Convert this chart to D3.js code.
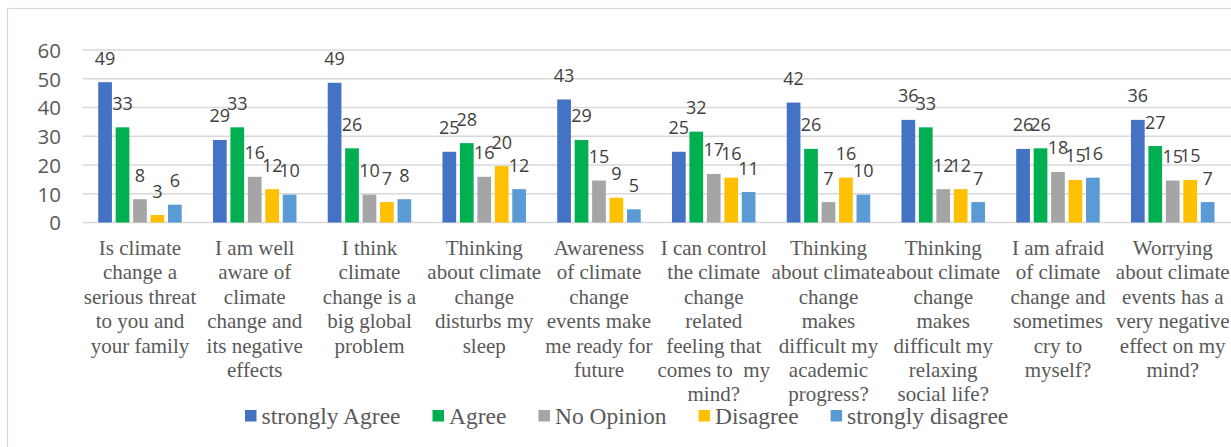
<!DOCTYPE html>
<html>
<head>
<meta charset="utf-8">
<script src="https://cdn.jsdelivr.net/npm/d3@7"></script>
<style>
html,body{margin:0;padding:0;background:#fff;}
svg{display:block;}
</style>
</head>
<body>
<svg id="chart" width="1231" height="447"></svg>
<script>
const categories = [
  "Is climate\nchange a\nserious threat\nto you and\nyour family",
  "I am well\naware of\nclimate\nchange and\nits negative\neffects",
  "I think\nclimate\nchange is a\nbig global\nproblem",
  "Thinking\nabout climate\nchange\ndisturbs my\nsleep",
  "Awareness\nof climate\nchange\nevents make\nme ready for\nfuture",
  "I can control\nthe climate\nchange\nrelated\nfeeling that\ncomes to  my\nmind?",
  "Thinking\nabout climate\nchange\nmakes\ndifficult my\nacademic\nprogress?",
  "Thinking\nabout climate\nchange\nmakes\ndifficult my\nrelaxing\nsocial life?",
  "I am afraid\nof climate\nchange and\nsometimes\ncry to\nmyself?",
  "Worrying\nabout climate\nevents has a\nvery negative\neffect on my\nmind?"
];
const seriesNames = ["strongly Agree", "Agree", "No Opinion", "Disagree", "strongly disagree"];
const seriesColors = ["#4472C4", "#00B050", "#A5A5A5", "#FFC000", "#5B9BD5"];
const stronglyAgree    = [48.8, 28.7, 48.6, 24.6, 42.8, 24.6, 41.7, 35.7, 25.6, 35.7];
const agree            = [33.1, 33.1, 25.8, 27.6, 28.7, 31.6, 25.6, 33.1, 25.8, 26.6];
const noOpinion        = [8.1, 15.9, 9.7, 15.9, 14.6, 16.9, 7.1, 11.6, 17.6, 14.6];
const disagree         = [2.6, 11.6, 7.1, 19.6, 8.6, 15.6, 15.6, 11.6, 14.8, 14.8];
const stronglyDisagree = [6.2, 9.7, 8.1, 11.6, 4.6, 10.6, 9.7, 7.1, 15.6, 7.1];
const yTicks = [0, 10, 20, 30, 40, 50, 60];

const seriesValues = [stronglyAgree, agree, noOpinion, disagree, stronglyDisagree];
const svg = d3.select("#chart");

// chart border
svg.append("rect").attr("x", 7.5).attr("y", 8.5).attr("width", 1300).attr("height", 500)
  .attr("fill", "none").attr("stroke", "#D9D9D9").attr("stroke-width", 1.2);

const plotLeft = 82.6, plotRight = 1230.1, plotTop = 50, plotBottom = 222.5;

const x0 = d3.scaleBand().domain(d3.range(categories.length))
  .range([plotLeft, plotRight]).paddingInner(0.2397).paddingOuter(0.11985);
const x1 = d3.scaleBand().domain(d3.range(seriesNames.length))
  .range([0, x0.bandwidth()]).paddingInner(0.215).paddingOuter(0.1075);
const y = d3.scaleLinear().domain([0, 60]).range([plotBottom, plotTop]);

// gridlines
svg.append("g").selectAll("line").data(yTicks).join("line")
  .attr("x1", plotLeft).attr("x2", 1240)
  .attr("y1", d => y(d)).attr("y2", d => y(d))
  .attr("stroke", "#D9D9D9").attr("stroke-width", 1.3);

// y axis
const yAxis = svg.append("g").attr("transform", "translate(61,0)")
  .call(d3.axisLeft(y).tickValues(yTicks).tickSize(0).tickPadding(0));
yAxis.select(".domain").remove();
yAxis.selectAll("text").attr("font-family", "'Open Sans', sans-serif")
  .attr("font-size", "20.5px").attr("fill", "#595959").attr("dy", "0.36em");

// bars
const rows = [];
categories.forEach((c, i) => seriesValues.forEach((s, j) => rows.push({i, j, v: s[i]})));
const fmt = d3.format(".0f");
const bars = svg.append("g");
bars.selectAll("rect").data(rows).join("rect")
  .attr("x", d => x0(d.i) + x1(d.j)).attr("width", x1.bandwidth())
  .attr("y", d => y(d.v)).attr("height", d => y(0) - y(d.v))
  .attr("fill", d => seriesColors[d.j]);
bars.selectAll("text").data(rows).join("text")
  .attr("x", d => x0(d.i) + x1(d.j) + x1.bandwidth() / 2)
  .attr("y", d => y(d.v) - 17.5)
  .attr("text-anchor", "middle")
  .attr("font-family", "'Open Sans', sans-serif").attr("font-size", "18px")
  .attr("fill", "#404040")
  .text(d => fmt(d.v));

// x axis labels
const xAxis = svg.append("g").attr("transform", `translate(0,${plotBottom})`)
  .call(d3.axisBottom(x0).tickSize(0).tickFormat(""));
xAxis.select(".domain").remove();
xAxis.selectAll(".tick").each(function(d) {
  const t = d3.select(this).append("text")
    .attr("text-anchor", "middle")
    .attr("font-family", "'Liberation Serif', 'Times New Roman', serif")
    .attr("font-size", "21px").attr("fill", "#595959");
  categories[d].split("\n").forEach((line, k) => {
    t.append("tspan").attr("x", 0).attr("y", 32.5 + k * 24.4)
      .attr("xml:space", "preserve").style("white-space", "pre").text(line);
  });
});

// legend
const legend = svg.append("g").attr("transform", "translate(245,0)");
let lx = 0;
seriesNames.forEach((name, j) => {
  const g = legend.append("g").attr("transform", `translate(${lx},0)`);
  g.append("rect").attr("x", 0).attr("y", 410).attr("width", 11.5).attr("height", 11.5)
    .attr("fill", seriesColors[j]);
  const t = g.append("text").attr("x", 16.5).attr("y", 424.3)
    .attr("font-family", "'Liberation Serif', 'Times New Roman', serif")
    .attr("font-size", "23.5px").attr("fill", "#595959").text(name);
  lx += 16.5 + t.node().getComputedTextLength() + 32;
});
</script>
</body>
</html>
